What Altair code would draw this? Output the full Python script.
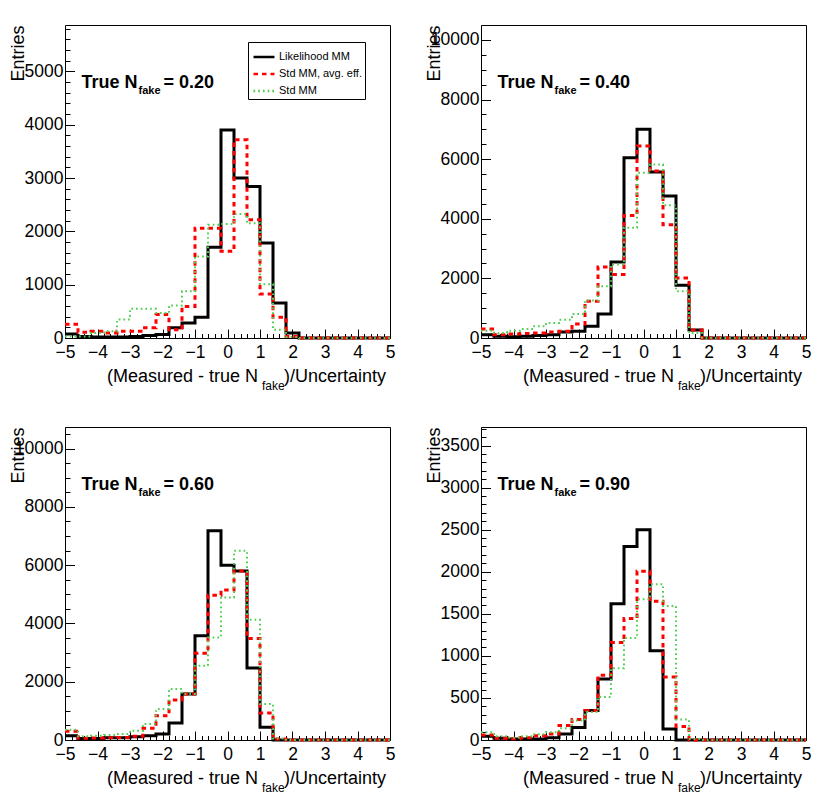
import altair as alt
import pandas as pd

# ---------------- data ----------------
BIN_EDGES = [-5.0, -4.6, -4.2, -3.8, -3.4, -3.0, -2.6, -2.2, -1.8, -1.4, -1.0, -0.6,
             -0.2, 0.2, 0.6, 1.0, 1.4, 1.8, 2.2, 2.6, 3.0, 3.4, 3.8, 4.2, 4.6, 5.0]

SERIES = ["Likelihood MM", "Std MM, avg. eff.", "Std MM"]
TRUE_NFAKE = ["0.20", "0.40", "0.60", "0.90"]

LIK_020 = [75, 30, 20, 20, 20, 30, 45, 65, 190, 280, 390, 1700, 3900, 3000, 2840, 1780, 655, 95, 0, 0, 0, 0, 0, 0, 0]
AVG_020 = [260, 110, 125, 95, 125, 125, 190, 440, 155, 590, 2060, 2060, 1625, 3720, 2220, 825, 390, 30, 0, 0, 0, 0, 0, 0, 0]
STD_020 = [30, 30, 95, 125, 345, 550, 550, 470, 610, 875, 1530, 2125, 2140, 2325, 2150, 1010, 155, 20, 0, 0, 0, 0, 0, 0, 0]

LIK_040 = [110, 55, 40, 60, 80, 110, 200, 225, 390, 805, 2550, 6050, 7000, 5565, 4760, 1770, 270, 0, 0, 0, 0, 0, 0, 0, 0]
AVG_040 = [300, 110, 135, 155, 170, 200, 225, 470, 1230, 2385, 2130, 4110, 6440, 5600, 3800, 2015, 270, 0, 0, 0, 0, 0, 0, 0, 0]
STD_040 = [245, 170, 245, 300, 390, 505, 615, 805, 1255, 1735, 2465, 3695, 5540, 5820, 4455, 1570, 170, 0, 0, 0, 0, 0, 0, 0, 0]

LIK_060 = [150, 55, 55, 80, 80, 115, 150, 205, 580, 1580, 3580, 7180, 6000, 5800, 2470, 435, 0, 0, 0, 0, 0, 0, 0, 0, 0]
AVG_060 = [300, 60, 70, 80, 90, 125, 400, 835, 1370, 1580, 2980, 4970, 5150, 5800, 3485, 925, 35, 0, 0, 0, 0, 0, 0, 0, 0]
STD_060 = [355, 125, 150, 170, 205, 320, 550, 1060, 1750, 1580, 2550, 3520, 4890, 6490, 4125, 1235, 55, 0, 0, 0, 0, 0, 0, 0, 0]

LIK_090 = [45, 20, 12, 12, 12, 28, 72, 150, 350, 725, 1620, 2300, 2500, 1060, 130, 0, 0, 0, 0, 0, 0, 0, 0, 0, 0]
AVG_090 = [60, 20, 15, 28, 52, 72, 172, 245, 352, 770, 1160, 1445, 2005, 1650, 750, 160, 0, 0, 0, 0, 0, 0, 0, 0, 0]
STD_090 = [92, 45, 28, 45, 68, 92, 140, 232, 332, 512, 852, 1212, 1672, 1852, 1592, 244, 12, 0, 0, 0, 0, 0, 0, 0, 0]

X_TICK_LABELS = [-5, -4, -3, -2, -1, 0, 1, 2, 3, 4, 5]
Y_TICK_LABELS = [
    [0, 1000, 2000, 3000, 4000, 5000],
    [0, 2000, 4000, 6000, 8000, 10000],
    [0, 2000, 4000, 6000, 8000, 10000],
    [0, 500, 1000, 1500, 2000, 2500, 3000, 3500],
]
Y_MAX = [5870, 10500, 10740, 3720]
Y_MINOR_STEP = [200, 500, 500, 100]

PANELS = [
    (LIK_020, AVG_020, STD_020),
    (LIK_040, AVG_040, STD_040),
    (LIK_060, AVG_060, STD_060),
    (LIK_090, AVG_090, STD_090),
]

# ---------------- style ----------------
FONT = "Liberation Sans"
W, H = 325, 313
BLACK = "#000000"
RED = "#ff0000"
GREEN = "#4fcf4f"
DASH_SOLID = [1, 0]
DASH_RED = [4.5, 4]
DASH_GREEN = [1.7, 3]

X_MINOR = [round(-5 + 0.2 * i, 1) for i in range(51)]
ONE_ROW = pd.DataFrame({"k": [0]})


def hist_df(values, name):
    return pd.DataFrame({"x": BIN_EDGES, "y": list(values) + [values[-1]], "series": name})


def text_layer(txt, x, y, size, bold):
    return alt.Chart(ONE_ROW).mark_text(
        text=txt, align="left", baseline="alphabetic", font=FONT,
        fontSize=size, fontWeight="bold" if bold else "normal", color="black",
    ).encode(x=alt.value(x), y=alt.value(y))


def make_panel(i):
    lik, avg, std = PANELS[i]
    ymax = Y_MAX[i]
    ystep = Y_MINOR_STEP[i]
    y_minor = [k * ystep for k in range(int(ymax // ystep) + 1)]

    xscale = alt.Scale(domain=[-5, 5], nice=False, zero=False)
    yscale = alt.Scale(domain=[0, ymax], nice=False, zero=False)

    x_main = alt.Axis(orient="bottom", values=X_TICK_LABELS, format="d", ticks=False, tickSize=0,
                      domain=False, grid=False, labelFont=FONT, labelFontSize=17.5, labelColor="black",
                      labelPadding=5, labelFlush=False, labelOverlap=False, title=None)
    y_main = alt.Axis(orient="left", values=Y_TICK_LABELS[i], format="d", ticks=False, tickSize=0,
                      domain=False, grid=False, labelFont=FONT, labelFontSize=17.5, labelColor="black",
                      labelPadding=2, labelFlush=False, labelOverlap=False,
                      title="Entries", titleFont=FONT, titleFontSize=18, titleFontWeight="normal",
                      titleColor="black", titleAngle=270, titleAlign="right", titleBaseline="alphabetic",
                      titleX=-42, titleY=0)
    x_major = alt.Axis(orient="top", offset=-H, values=X_TICK_LABELS, labels=False, ticks=True,
                       tickSize=9, tickColor="black", tickWidth=1, domain=False, grid=False, title=None)
    y_major = alt.Axis(orient="right", offset=-W, values=Y_TICK_LABELS[i], labels=False, ticks=True,
                       tickSize=9.5, tickColor="black", tickWidth=1, domain=False, grid=False, title=None)
    x_minor = alt.Axis(orient="top", offset=-H, values=X_MINOR, labels=False, ticks=True,
                       tickSize=4.5, tickColor="black", tickWidth=1, domain=False, grid=False, title=None)
    y_minor_ax = alt.Axis(orient="right", offset=-W, values=y_minor, labels=False, ticks=True,
                          tickSize=5, tickColor="black", tickWidth=1, domain=False, grid=False, title=None)

    legend = alt.Legend(orient="none", legendX=183, legendY=17, title=None,
                        symbolType="stroke", symbolSize=441, symbolStrokeWidth=2.5,
                        labelFont=FONT, labelFontSize=11, labelColor="black",
                        strokeColor="black", fillColor="white", padding=3,
                        rowPadding=-4, symbolOffset=1, labelOffset=3, cornerRadius=0)

    def enc(xa, ya, color, dash):
        e = dict(x=alt.X("x:Q", scale=xscale, axis=xa), y=alt.Y("y:Q", scale=yscale, axis=ya))
        if i == 0:
            e["color"] = alt.Color("series:N",
                                   scale=alt.Scale(domain=SERIES, range=[BLACK, RED, GREEN]),
                                   legend=legend)
            e["strokeDash"] = alt.StrokeDash("series:N",
                                             scale=alt.Scale(domain=SERIES,
                                                             range=[DASH_SOLID, DASH_RED, DASH_GREEN]),
                                             legend=legend)
        else:
            e["color"] = alt.value(color)
            e["strokeDash"] = alt.value(dash)
        return e

    black = alt.Chart(hist_df(lik, SERIES[0])).mark_line(interpolate="step-after", strokeWidth=3).encode(
        **enc(x_main, y_main, BLACK, DASH_SOLID))
    red = alt.Chart(hist_df(avg, SERIES[1])).mark_line(interpolate="step-after", strokeWidth=3).encode(
        **enc(x_major, y_major, RED, DASH_RED))
    green = alt.Chart(hist_df(std, SERIES[2])).mark_line(interpolate="step-after", strokeWidth=2).encode(
        **enc(x_minor, y_minor_ax, GREEN, DASH_GREEN))

    texts = [
        text_layer("True N", 16.5, 63, 18, True),
        text_layer("fake", 73.5, 68.5, 11, True),
        text_layer("= " + TRUE_NFAKE[i], 98.5, 63, 18, True),
        text_layer("(Measured - true N", 42, 357, 18, False),
        text_layer("fake", 197, 365, 12, False),
        text_layer(")/Uncertainty", 219, 357, 18, False),
    ]
    return alt.layer(black, red, green, *texts).resolve_axis(
        x="independent", y="independent").properties(width=W, height=H)


chart = alt.concat(
    make_panel(0), make_panel(1), make_panel(2), make_panel(3),
    columns=2, spacing={"row": 33, "column": 27},
).properties(
    padding={"left": 0, "top": 16, "right": 5, "bottom": 5}
).configure_view(stroke="black", strokeWidth=1)

chart.save("out.html", embed_options={"renderer": "svg", "actions": False})
